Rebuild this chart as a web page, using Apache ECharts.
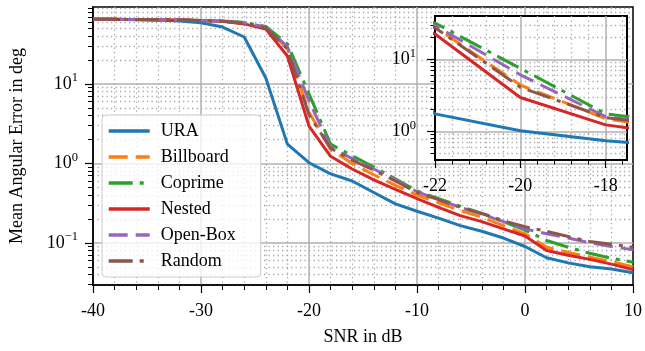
<!DOCTYPE html>
<html>
<head>
<meta charset="utf-8">
<script src="https://cdn.jsdelivr.net/npm/echarts@6/dist/echarts.min.js"></script>
<style>
  html, body { margin: 0; padding: 0; background: #ffffff; }
  #chart { width: 645px; height: 351px; }
</style>
</head>
<body>
<div id="chart"></div>
<script>
// SNR in dB (x values)
const snr = [-40, -38, -36, -34, -32, -30, -28, -26, -24, -22, -20, -18, -16, -14, -12, -10, -8, -6, -4, -2, 0, 2, 4, 6, 8, 10];

// mean angular error in deg, one list per array geometry
const ura       = [65, 65, 64.5, 64, 62, 59, 52, 39, 11.9, 1.75, 1.02, 0.74, 0.6, 0.43, 0.31, 0.25, 0.205, 0.165, 0.14, 0.115, 0.09, 0.065, 0.056, 0.05, 0.047, 0.042];
const billboard = [65, 65, 64.8, 64.5, 64, 63, 61.5, 58, 51, 28, 4.4, 1.5, 1.0, 0.72, 0.53, 0.4, 0.32, 0.255, 0.21, 0.165, 0.13, 0.088, 0.076, 0.066, 0.058, 0.05];
const coprime   = [65, 65, 64.8, 64.5, 64, 63, 62, 59.5, 53, 32, 7.5, 1.75, 1.25, 0.9, 0.64, 0.45, 0.36, 0.29, 0.235, 0.185, 0.145, 0.107, 0.088, 0.074, 0.064, 0.057];
const nested    = [65, 65, 64.8, 64.5, 64, 63, 61.5, 57, 49, 22.5, 2.95, 1.23, 0.85, 0.62, 0.47, 0.36, 0.28, 0.22, 0.185, 0.15, 0.122, 0.08, 0.07, 0.062, 0.054, 0.046];
const openBox   = [65, 65, 64.8, 64.5, 64, 63, 62, 59, 52, 29.5, 6.1, 1.6, 1.15, 0.85, 0.62, 0.44, 0.35, 0.28, 0.23, 0.185, 0.15, 0.13, 0.115, 0.1, 0.09, 0.082];
const random    = [65, 65, 64.8, 64.5, 64, 63, 61.5, 58, 51, 27.5, 4.1, 1.55, 1.1, 0.82, 0.6, 0.43, 0.35, 0.28, 0.235, 0.19, 0.16, 0.14, 0.12, 0.104, 0.096, 0.088];

const names = ['URA', 'Billboard', 'Coprime', 'Nested', 'Open-Box', 'Random'];
const values = [ura, billboard, coprime, nested, openBox, random];

// tick labels / tick positions
const yMajor = [0.1, 1, 10];
const insetXMajor = [-22, -20, -18];
const insetXMinor = [-21.6, -21.2, -20.8, -20.4, -19.6, -19.2, -18.8, -18.4, -17.6];
const insetYMajor = [1, 10];
const minorSteps = [2, 3, 4, 5, 6, 7, 8, 9];

const colors = ['#1f77b4', '#ff7f0e', '#2ca02c', '#d62728', '#9467bd', '#8c564b'];
const dashes = ['solid', [19, 8], [24, 7, 4, 7], 'solid', [19, 8], [24, 7, 4, 7]];

const FONT = 'Liberation Serif';
const GRID_C = '#b0b0b0';

// y axes are drawn in log10 space
const lg = v => Math.log10(v);
const yMin = lg(0.0295), yMax = lg(93);
const iyMin = lg(0.4), iyMax = lg(40);

function minorLogs(lo, hi) {
  const out = [];
  [0.01, 0.1, 1, 10].forEach(d => {
    minorSteps.forEach(k => {
      const v = lg(k * d);
      if (v > lo && v < hi) out.push(v);
    });
  });
  return out;
}

function powLabel(v) {
  const e = Math.round(v);
  return '{b|10}{s|' + (e < 0 ? '\u2212' + (-e) : e) + '}';
}
const powRich = {
  b: { fontFamily: FONT, fontSize: 18, color: '#000' },
  s: { fontFamily: FONT, fontSize: 12.5, color: '#000', padding: [0, 0, 12, 0] }
};

const blackLine = { color: '#000', width: 1.5 };
const solidGrid = { color: GRID_C, width: 1.5 };
const dotGrid = { color: '#a8a8a8', width: 1.3, type: [1.3, 3.2] };

const myChart = echarts.init(document.getElementById('chart'));

let series = [];
names.forEach((n, i) => {
  const data = snr.map((x, j) => [x, lg(values[i][j])]);
  const ls = { color: colors[i], width: 3, type: dashes[i], join: 'round' };
  series.push({
    name: n, type: 'line', xAxisIndex: 0, yAxisIndex: 0, data: data,
    symbol: 'none', showSymbol: false, lineStyle: ls, itemStyle: { color: colors[i] },
    z: 2, clip: true
  });
  series.push({
    name: n, type: 'line', xAxisIndex: 1, yAxisIndex: 2, data: data,
    symbol: 'none', showSymbol: false, lineStyle: ls, itemStyle: { color: colors[i] },
    z: 12, clip: true
  });
});

let option = {
  animation: false,
  backgroundColor: '#ffffff',
  grid: [
    { left: 92, right: 9, top: 7, bottom: 64, show: true, borderColor: '#000', borderWidth: 1.5, backgroundColor: 'transparent' },
    { left: 435, top: 16, width: 192, height: 144, show: true, borderColor: '#000', borderWidth: 2, backgroundColor: '#ffffff', z: 10 }
  ],
  legend: {
    orient: 'vertical',
    left: 102,
    top: 115,
    data: names,
    itemWidth: 41,
    itemHeight: 12,
    itemGap: 8,
    padding: [7, 25, 7, 5],
    backgroundColor: 'rgba(255,255,255,0.8)',
    borderColor: '#cccccc',
    borderWidth: 1,
    borderRadius: 4,
    // hide the marker symbol, keep only the line sample
    itemStyle: { opacity: 0, borderWidth: 0 },
    lineStyle: { width: 3.4 },
    textStyle: { fontFamily: FONT, fontSize: 18, color: '#000', lineHeight: 18, padding: [0, 0, 0, 6] }
  },
  xAxis: [
    {
      gridIndex: 0, type: 'value', position: 'bottom', min: -40, max: 10, interval: 10,
      axisLine: { show: true, onZero: false, lineStyle: blackLine },
      axisTick: { show: true, length: 8, lineStyle: { color: '#000', width: 1.2 } },
      minorTick: { show: true, splitNumber: 5, length: 5, lineStyle: { color: '#000', width: 1 } },
      axisLabel: { fontFamily: FONT, fontSize: 18, color: '#000', margin: 17 },
      splitLine: { show: true, showMinLine: false, showMaxLine: false, lineStyle: solidGrid },
      minorSplitLine: { show: true, lineStyle: dotGrid },
      name: 'SNR in dB', nameLocation: 'middle', nameGap: 43,
      nameTextStyle: { fontFamily: FONT, fontSize: 18, color: '#000' }
    },
    {
      gridIndex: 1, type: 'value', position: 'bottom', min: -22, max: -17.5, z: 11,
      axisLine: { show: true, onZero: false, lineStyle: { color: '#000', width: 2 } },
      axisTick: { show: true, length: 8, customValues: insetXMajor, lineStyle: { color: '#000', width: 1.2 } },
      axisLabel: { fontFamily: FONT, fontSize: 18, color: '#000', margin: 17, customValues: insetXMajor },
      splitLine: { show: true, lineStyle: solidGrid }
    },
    {
      gridIndex: 1, type: 'value', position: 'bottom', min: -22, max: -17.5, z: 11,
      axisLine: { show: false, onZero: false },
      axisTick: { show: true, length: 4.5, customValues: insetXMinor, lineStyle: { color: '#000', width: 1 } },
      axisLabel: { show: false },
      splitLine: { show: true, lineStyle: dotGrid }
    }
  ],
  yAxis: [
    {
      gridIndex: 0, type: 'value', position: 'left', min: yMin, max: yMax,
      axisLine: { show: true, onZero: false, lineStyle: blackLine },
      axisTick: { show: true, length: 8, customValues: yMajor.map(lg), lineStyle: { color: '#000', width: 1.2 } },
      axisLabel: { margin: 15, customValues: yMajor.map(lg), formatter: powLabel, rich: powRich },
      splitLine: { show: true, lineStyle: solidGrid },
      name: 'Mean Angular Error in deg', nameLocation: 'middle', nameGap: 67,
      nameTextStyle: { fontFamily: FONT, fontSize: 18, color: '#000' }
    },
    {
      gridIndex: 0, type: 'value', position: 'left', min: yMin, max: yMax,
      axisLine: { show: false, onZero: false },
      axisTick: { show: true, length: 5, customValues: minorLogs(yMin, yMax), lineStyle: { color: '#000', width: 1 } },
      axisLabel: { show: false },
      splitLine: { show: true, lineStyle: dotGrid }
    },
    {
      gridIndex: 1, type: 'value', position: 'left', min: iyMin, max: iyMax, z: 11,
      axisLine: { show: true, onZero: false, lineStyle: { color: '#000', width: 2 } },
      axisTick: { show: true, length: 8, customValues: insetYMajor.map(lg), lineStyle: { color: '#000', width: 1.2 } },
      axisLabel: { margin: 19, customValues: insetYMajor.map(lg), formatter: powLabel, rich: powRich },
      splitLine: { show: true, lineStyle: solidGrid }
    },
    {
      gridIndex: 1, type: 'value', position: 'left', min: iyMin, max: iyMax, z: 11,
      axisLine: { show: false, onZero: false },
      axisTick: { show: true, length: 4.5, customValues: minorLogs(iyMin, iyMax), lineStyle: { color: '#000', width: 1 } },
      axisLabel: { show: false },
      splitLine: { show: true, lineStyle: dotGrid }
    }
  ],
  series: series
};

myChart.setOption(option);
</script>
</body>
</html>
